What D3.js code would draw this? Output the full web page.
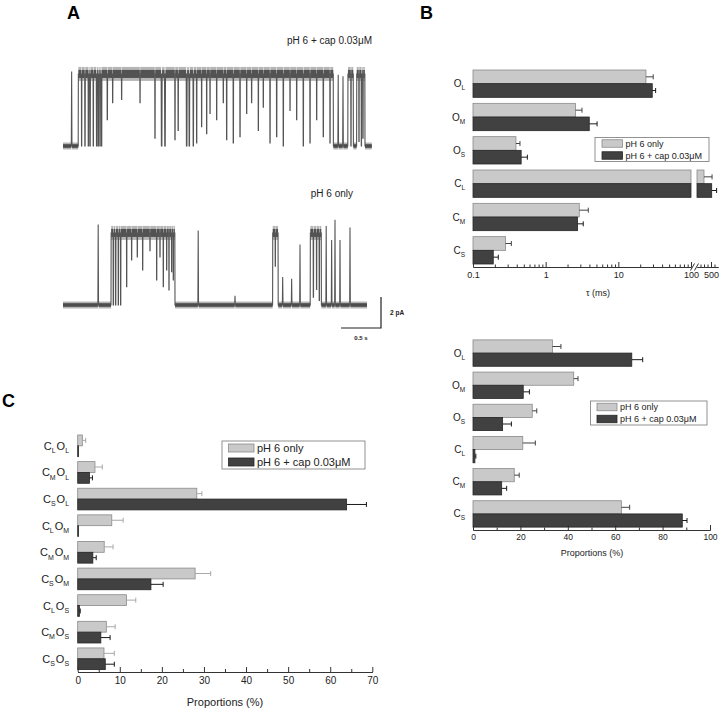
<!DOCTYPE html>
<html><head><meta charset="utf-8">
<script src="https://cdn.jsdelivr.net/npm/d3@7"></script>
<style>body{margin:0;background:#fff} svg{display:block;font-family:"Liberation Sans",Arial,sans-serif}</style>
</head><body><svg id="c" width="720" height="708"></svg>
<script>
// ---------- DATA ----------
// Panel B (top): dwell times tau (ms)
const stateKeys = ["OL","OM","OS","CL","CM","CS"];
const stateLabels = [["O","L"],["O","M"],["O","S"],["C","L"],["C","M"],["C","S"]];
const tauPH6 = [24, 2.58, 0.39, 300, 2.9, 0.281];
const tauPH6Err = [6.2, 0.58, 0.053, 230, 0.96, 0.056];
const tauCap = [29.3, 3.98, 0.46, 520, 2.75, 0.19];
const tauCapErr = [3.3, 1.12, 0.10, 140, 0.54, 0.033];
const tauMajor = [0.1, 1, 10, 100];
const tauMinor = [0.2,0.3,0.4,0.5,0.6,0.7,0.8,0.9,2,3,4,5,6,7,8,9,20,30,40,50,60,70,80,90];
const tauMajor2 = [500];
const tauMinor2 = [200,300,400,600];
// Panel B (bottom): state proportions (%)
const propPH6 = [33.5, 42.5, 25, 21, 17.4, 62.6];
const propPH6Err = [3.6, 1.8, 1.9, 5.3, 2.1, 3.5];
const propCap = [67, 21.2, 12.5, 0.8, 12.1, 88.3];
const propCapErr = [4.6, 2.6, 3.7, 0.4, 2.1, 2.0];
const propTicks = [0,20,40,60,80,100];
// Panel C: transition-pair proportions (%)
const pairKeys = ["CLOL","CMOL","CSOL","CLOM","CMOM","CSOM","CLOS","CMOS","CSOS"];
const pairLabels = [[["C","L"],["O","L"]],[["C","M"],["O","L"]],[["C","S"],["O","L"]],
  [["C","L"],["O","M"]],[["C","M"],["O","M"]],[["C","S"],["O","M"]],
  [["C","L"],["O","S"]],[["C","M"],["O","S"]],[["C","S"],["O","S"]]];
const pairPH6 = [1.1, 4.1, 28.3, 8.1, 6.3, 27.9, 11.6, 6.8, 6.25];
const pairPH6Err = [0.8, 1.75, 1.2, 2.7, 2.1, 3.7, 2.2, 2.1, 2.45];
const pairCap = [0.2, 2.8, 63.9, 0.2, 3.6, 17.4, 0.4, 5.5, 6.55];
const pairCapErr = [0, 0.7, 4.7, 0, 0.8, 2.9, 0.2, 2.2, 2.15];
const pairTicks = [0,10,20,30,40,50,60,70];
const seriesNames = ["pH 6 only", "pH 6 + cap 0.03\u03bcM"];
// Panel A: single-channel traces (time s, amplitude pA)
const openAmp = 4.65;
// pH 6 + cap
const capBursts = [[0.19, 3.38], [3.56, 3.63], [3.67, 3.775]];
const capClosures = [ // [t, level pA, duration s]
  [0.233,0,0.006],[0.275,0,0.008],[0.317,0,0.006],[0.338,0,0.01],[0.379,0,0.006],[0.421,0,0.01],
  [0.442,0,0.006],[0.463,0,0.008],[0.483,0,0.006],
  [0.554,1.7,0.006],[0.621,2.8,0.005],[0.733,3.0,0.005],[0.963,2.8,0.005],[1.15,0.5,0.006],
  [1.233,0,0.012],[1.275,0,0.012],[1.40,0.4,0.006],[1.44,1.0,0.006],[1.546,0,0.012],[1.579,0,0.01],
  [1.629,0,0.008],[1.671,0.2,0.006],[1.733,1.25,0.005],[1.796,0.8,0.005],[1.838,2.1,0.005],
  [1.921,1.7,0.005],[2.004,2.8,0.005],[2.046,0.4,0.006],[2.129,0.2,0.006],[2.213,0.6,0.006],
  [2.296,2.1,0.005],[2.358,2.8,0.005],[2.442,1.0,0.005],[2.504,2.5,0.005],[2.588,0.2,0.006],
  [2.671,0.6,0.006],[2.754,0,0.006],[2.838,2.3,0.005],[2.921,1.7,0.005],[3.004,0,0.006],
  [3.088,0.2,0.006],[3.171,1.7,0.005],[3.254,0.6,0.006],[3.338,0.2,0.006],
  [3.60,0,0.006],[3.70,0.3,0.006],[3.73,0,0.006],[3.75,0.5,0.006]];
const capSpikes = [[0.108,4.8],[3.44,4.6],[3.50,4.5]];
const capEnd = 3.86;
// pH 6 only
const ph6Bursts = [[0.60, 1.40], [2.62, 2.69], [3.09, 3.23]];
const ph6Closures = [
  [0.629,0,0.006],[0.658,0,0.008],[0.692,0,0.006],[0.721,0,0.006],
  [0.796,1.18,0.005],[0.858,2.9,0.005],[0.929,3.1,0.005],[0.996,2.26,0.005],[1.0875,3.5,0.005],
  [1.171,1.61,0.005],[1.2125,3.1,0.005],[1.254,1.18,0.005],[1.296,2.26,0.005],[1.325,0.97,0.005],
  [1.358,2.15,0.005],[1.379,1.61,0.005],
  [2.654,2.5,0.005],[3.13,0.5,0.006],[3.17,1.0,0.006],[3.204,0.3,0.006]];
const ph6Spikes = [[0.44,5.2],[1.69,4.8],[2.15,0.6],[2.746,1.8],[2.858,1.7],[2.9625,3.9],
  [3.29,5.1],[3.358,4.2],[3.40,5.5],[3.4625,4.2],[3.5875,5.0]];
const ph6End = 3.80;

// ---------- DRAW ----------
const svg = d3.select("#c");
const FILL_L = "#c9c9c9", STROKE_L = "#8a8a8a", FILL_D = "#414141", STROKE_D = "#262626";

function subLabel(g, x, y, parts, fs, sfs) {
  const t = g.append("text").attr("x", x).attr("y", y).attr("text-anchor", "end")
    .attr("font-size", fs).attr("fill", "#222");
  const off = fs * 0.3;
  parts.forEach(([m, s]) => {
    t.append("tspan").attr("font-size", fs).text(m);
    t.append("tspan").attr("font-size", sfs).attr("dy", off).text(s);
    t.append("tspan").attr("font-size", fs).attr("dy", -off).text("\u200a");
  });
}

function drawBars(g, keys, y, xf, x0, v1, e1, v2, e2, errCol1, cap) {
  keys.forEach((k, i) => {
    const bw = y.bandwidth() / 2;
    const yy = y(k);
    [[v1[i], e1[i], FILL_L, STROKE_L, errCol1, yy], [v2[i], e2[i], FILL_D, STROKE_D, "#1a1a1a", yy + bw]]
      .forEach(([v, e, f, s, ec, top]) => {
        g.append("rect").attr("x", x0).attr("y", top).attr("width", Math.max(0.8, xf(v) - x0))
          .attr("height", bw).attr("fill", f).attr("stroke", s).attr("stroke-width", 0.8);
        if (e > 0) {
          const a = xf(v), b = xf(v + e), cy = top + bw / 2;
          g.append("line").attr("x1", a).attr("x2", b).attr("y1", cy).attr("y2", cy).attr("stroke", ec).attr("stroke-width", 1);
          g.append("line").attr("x1", b).attr("x2", b).attr("y1", cy - cap).attr("y2", cy + cap).attr("stroke", ec).attr("stroke-width", 1);
        }
      });
  });
}

function legend(g, x, y, w, h, sw, fs) {
  g.append("rect").attr("x", x).attr("y", y).attr("width", w).attr("height", h)
    .attr("fill", "#fff").attr("stroke", "#777").attr("stroke-width", 0.8);
  const rowH = h / 2;
  seriesNames.forEach((n, i) => {
    const cy = y + rowH * i + rowH / 2;
    g.append("rect").attr("x", x + sw[0]).attr("y", cy - sw[2] / 2).attr("width", sw[1]).attr("height", sw[2])
      .attr("fill", i ? FILL_D : FILL_L).attr("stroke", i ? STROKE_D : STROKE_L).attr("stroke-width", 0.8);
    g.append("text").attr("x", x + sw[0] + sw[1] + 3).attr("y", cy + fs * 0.36).attr("font-size", fs).attr("fill", "#222").text(n);
  });
}

function styleAxis(sel, fs) {
  sel.selectAll("path.domain").attr("stroke", "#333");
  sel.selectAll(".tick line").attr("stroke", "#333");
  sel.selectAll("text").attr("font-size", fs).attr("fill", "#222").attr("font-family", "Liberation Sans, Arial, sans-serif");
}

// Panel letters
svg.append("text").attr("x", 67).attr("y", 19).attr("font-size", 18).attr("font-weight", "bold").text("A");
svg.append("text").attr("x", 420).attr("y", 19).attr("font-size", 18).attr("font-weight", "bold").text("B");
svg.append("text").attr("x", 2).attr("y", 407).attr("font-size", 18).attr("font-weight", "bold").text("C");

// ---- Panel B top ----
{
  const g = svg.append("g");
  const y = d3.scaleBand().domain(stateKeys).range([67, 267]).paddingInner(0.18).paddingOuter(0.09);
  const x1 = d3.scaleLog().domain([0.1, 100]).range([473, 691]);
  const x2 = d3.scaleLinear().domain([100, 700]).range([697, 718]);
  const xf = v => v <= 100 ? x1(v) : x2(v);
  const bw = y.bandwidth() / 2;
  stateKeys.forEach((k, i) => {
    [[tauPH6[i], tauPH6Err[i], FILL_L, STROKE_L, "#444", y(k)], [tauCap[i], tauCapErr[i], FILL_D, STROKE_D, "#1a1a1a", y(k) + bw]]
      .forEach(([v, e, f, s, ec, top]) => {
        if (v <= 100) {
          g.append("rect").attr("x", 473).attr("y", top).attr("width", x1(v) - 473).attr("height", bw)
            .attr("fill", f).attr("stroke", s).attr("stroke-width", 0.8);
        } else {
          g.append("rect").attr("x", 473).attr("y", top).attr("width", x1(100) - 473).attr("height", bw)
            .attr("fill", f).attr("stroke", s).attr("stroke-width", 0.8);
          g.append("rect").attr("x", x2(100)).attr("y", top).attr("width", x2(v) - x2(100)).attr("height", bw)
            .attr("fill", f).attr("stroke", s).attr("stroke-width", 0.8);
        }
        const a = xf(v), b = xf(v + e), cy = top + bw / 2;
        g.append("line").attr("x1", a).attr("x2", b).attr("y1", cy).attr("y2", cy).attr("stroke", ec);
        g.append("line").attr("x1", b).attr("x2", b).attr("y1", cy - 2.5).attr("y2", cy + 2.5).attr("stroke", ec);
      });
    subLabel(g, 466, y(k) + bw + 3.5, [stateLabels[i]], 10, 6.5);
  });
  const ay = 267;
  const gm = g.append("g").attr("transform", `translate(0,${ay})`)
    .call(d3.axisBottom(x1).tickValues(tauMinor).tickSize(-2.5).tickSizeOuter(0).tickFormat(""));
  styleAxis(gm, 9);
  const gM = g.append("g").attr("transform", `translate(0,${ay})`)
    .call(d3.axisBottom(x1).tickValues(tauMajor).tickSize(-5).tickSizeOuter(0).tickPadding(5).tickFormat(d => d3.format("")(d)));
  styleAxis(gM, 9);
  const gm2 = g.append("g").attr("transform", `translate(0,${ay})`)
    .call(d3.axisBottom(x2).tickValues(tauMinor2).tickSize(-2.5).tickSizeOuter(0).tickFormat(""));
  styleAxis(gm2, 9);
  const gM2 = g.append("g").attr("transform", `translate(0,${ay})`)
    .call(d3.axisBottom(x2).tickValues(tauMajor2).tickSize(-5).tickSizeOuter(0).tickPadding(5));
  styleAxis(gM2, 9);
  // break marks
  g.append("rect").attr("x", 692).attr("y", ay - 4).attr("width", 4).attr("height", 8).attr("fill", "#fff");
  [690.5, 694.5].forEach(bx => g.append("line").attr("x1", bx).attr("y1", ay + 3.5).attr("x2", bx + 4).attr("y2", ay - 3.5).attr("stroke", "#333"));
  g.append("text").attr("x", 598).attr("y", 296).attr("text-anchor", "middle").attr("font-size", 9).attr("fill", "#222").text("\u03c4 (ms)");
  legend(g, 595, 137.5, 114, 24, [7, 20.5, 7.5], 9);
}

// ---- Panel B bottom ----
{
  const g = svg.append("g");
  const y = d3.scaleBand().domain(stateKeys).range([337, 530]).paddingInner(0.18).paddingOuter(0.09);
  const x = d3.scaleLinear().domain([0, 100]).range([473, 710]);
  drawBars(g, stateKeys, y, x, 473, propPH6, propPH6Err, propCap, propCapErr, "#444", 2.5);
  stateKeys.forEach((k, i) => subLabel(g, 466, y(k) + y.bandwidth() / 2 + 3.5, [stateLabels[i]], 10, 6.5));
  const gm = g.append("g").attr("transform", "translate(0,530)")
    .call(d3.axisBottom(x).tickValues([10,30,50,70,90]).tickSize(-2.5).tickSizeOuter(0).tickFormat(""));
  styleAxis(gm, 9);
  const gM = g.append("g").attr("transform", "translate(0,530)")
    .call(d3.axisBottom(x).tickValues(propTicks).tickSize(-5).tickSizeOuter(0).tickPadding(4));
  styleAxis(gM, 8.5);
  g.append("text").attr("x", 592).attr("y", 556).attr("text-anchor", "middle").attr("font-size", 9).attr("fill", "#222").text("Proportions (%)");
  legend(g, 590.5, 401, 116.5, 24, [6.5, 20, 7.5], 9);
}

// ---- Panel C ----
{
  const g = svg.append("g");
  const y = d3.scaleBand().domain(pairKeys).range([432.6, 672]).paddingInner(0.186).paddingOuter(0.09);
  const x = d3.scaleLinear().domain([0, 70]).range([77.7, 372.3]);
  drawBars(g, pairKeys, y, x, 77.7, pairPH6, pairPH6Err, pairCap, pairCapErr, "#a8a8a8", 2.5);
  pairKeys.forEach((k, i) => subLabel(g, 70, y(k) + y.bandwidth() / 2 + 4, pairLabels[i], 11, 7));
  const gm = g.append("g").attr("transform", "translate(0,672)")
    .call(d3.axisBottom(x).tickValues([5,15,25,35,45,55,65]).tickSize(-3).tickSizeOuter(0).tickFormat(""));
  styleAxis(gm, 10);
  const gM = g.append("g").attr("transform", "translate(0,672)")
    .call(d3.axisBottom(x).tickValues(pairTicks).tickSize(-5).tickSizeOuter(0).tickPadding(5));
  styleAxis(gM, 10);
  g.append("text").attr("x", 225).attr("y", 706).attr("text-anchor", "middle").attr("font-size", 11).attr("fill", "#222").text("Proportions (%)");
  legend(g, 222, 441, 143, 28, [6.5, 25.5, 8], 11);
}

// ---- Panel A traces ----
function buildTrace(bursts, closures, spikes, tEnd) {
  const ev = [];
  bursts.forEach(([a, b]) => ev.push({ t: a, kind: "burst", a, b }));
  spikes.forEach(([t, l]) => ev.push({ t, kind: "spike", l }));
  ev.sort((p, q) => p.t - q.t);
  const pts = [[0, 0]];
  const openSeg = [], baseSeg = [];
  let lastBase = 0;
  const d = 0.004;
  ev.forEach(e => {
    if (e.kind === "spike") {
      baseSeg.push([lastBase, e.t - d]);
      pts.push([e.t - d, 0], [e.t, e.l], [e.t + d, 0]);
      lastBase = e.t + d;
    } else {
      baseSeg.push([lastBase, e.a]);
      pts.push([e.a, 0], [e.a + 0.002, openAmp]);
      let s = e.a + 0.002;
      closures.filter(c => c[0] > e.a && c[0] < e.b).forEach(([t, l, du]) => {
        openSeg.push([s, t - du / 2]);
        pts.push([t - du / 2, openAmp], [t - du / 4, l], [t + du / 4, l], [t + du / 2, openAmp]);
        s = t + du / 2;
      });
      openSeg.push([s, e.b - 0.002]);
      pts.push([e.b - 0.002, openAmp], [e.b, 0]);
      lastBase = e.b;
    }
  });
  baseSeg.push([lastBase, tEnd]);
  pts.push([tEnd, 0]);
  return { pts, openSeg, baseSeg };
}

function drawTrace(tr, x, y, g) {
  const line = d3.line().x(p => x(p[0])).y(p => y(p[1]));
  tr.openSeg.forEach(([a, b]) => {
    g.append("line").attr("x1", x(a)).attr("x2", x(b)).attr("y1", y(openAmp)).attr("y2", y(openAmp))
      .attr("stroke", "#7a7a7a").attr("stroke-width", 14).attr("opacity", 0.55);
    g.append("line").attr("x1", x(a)).attr("x2", x(b)).attr("y1", y(openAmp)).attr("y2", y(openAmp))
      .attr("stroke", "#4d4d4d").attr("stroke-width", 8).attr("opacity", 0.95);
  });
  tr.baseSeg.forEach(([a, b]) => {
    if (b <= a) return;
    g.append("line").attr("x1", x(a)).attr("x2", x(b)).attr("y1", y(0)).attr("y2", y(0))
      .attr("stroke", "#7a7a7a").attr("stroke-width", 7).attr("opacity", 0.55);
    g.append("line").attr("x1", x(a)).attr("x2", x(b)).attr("y1", y(0)).attr("y2", y(0))
      .attr("stroke", "#454545").attr("stroke-width", 3.5);
  });
  g.append("path").attr("d", line(tr.pts)).attr("fill", "none").attr("stroke", "#555").attr("stroke-width", 1.1);
}

{
  const g = svg.append("g");
  const xA = d3.scaleLinear().domain([0, 1]).range([63, 143]); // 80 px per second
  const yTop = d3.scaleLinear().domain([0, 2]).range([146, 115]);
  const yBot = d3.scaleLinear().domain([0, 2]).range([305, 274]);
  drawTrace(buildTrace(capBursts, capClosures, capSpikes, capEnd), xA, yTop, g);
  drawTrace(buildTrace(ph6Bursts, ph6Closures, ph6Spikes, ph6End), xA, yBot, g);
  g.append("text").attr("x", 372).attr("y", 44).attr("text-anchor", "end").attr("font-size", 10).attr("fill", "#222").text("pH 6 + cap 0.03\u03bcM");
  g.append("text").attr("x", 353).attr("y", 197).attr("text-anchor", "end").attr("font-size", 10).attr("fill", "#222").text("pH 6 only");
  // scale bar: 0.5 s and 2 pA
  const sx = 381, sy = 328;
  const hw = xA(0.5) - xA(0), vh = yBot(0) - yBot(2);
  g.append("path").attr("d", `M${sx - hw},${sy}H${sx}V${sy - vh}`).attr("fill", "none").attr("stroke", "#222").attr("stroke-width", 1.2);
  g.append("text").attr("x", 390).attr("y", 315).attr("font-size", 6.5).attr("font-weight", "bold").attr("fill", "#222").text("2 pA");
  g.append("text").attr("x", sx - hw / 2).attr("y", 340).attr("text-anchor", "middle").attr("font-size", 6).attr("font-weight", "bold").attr("fill", "#222").text("0.5 s");
}
</script></body></html>
